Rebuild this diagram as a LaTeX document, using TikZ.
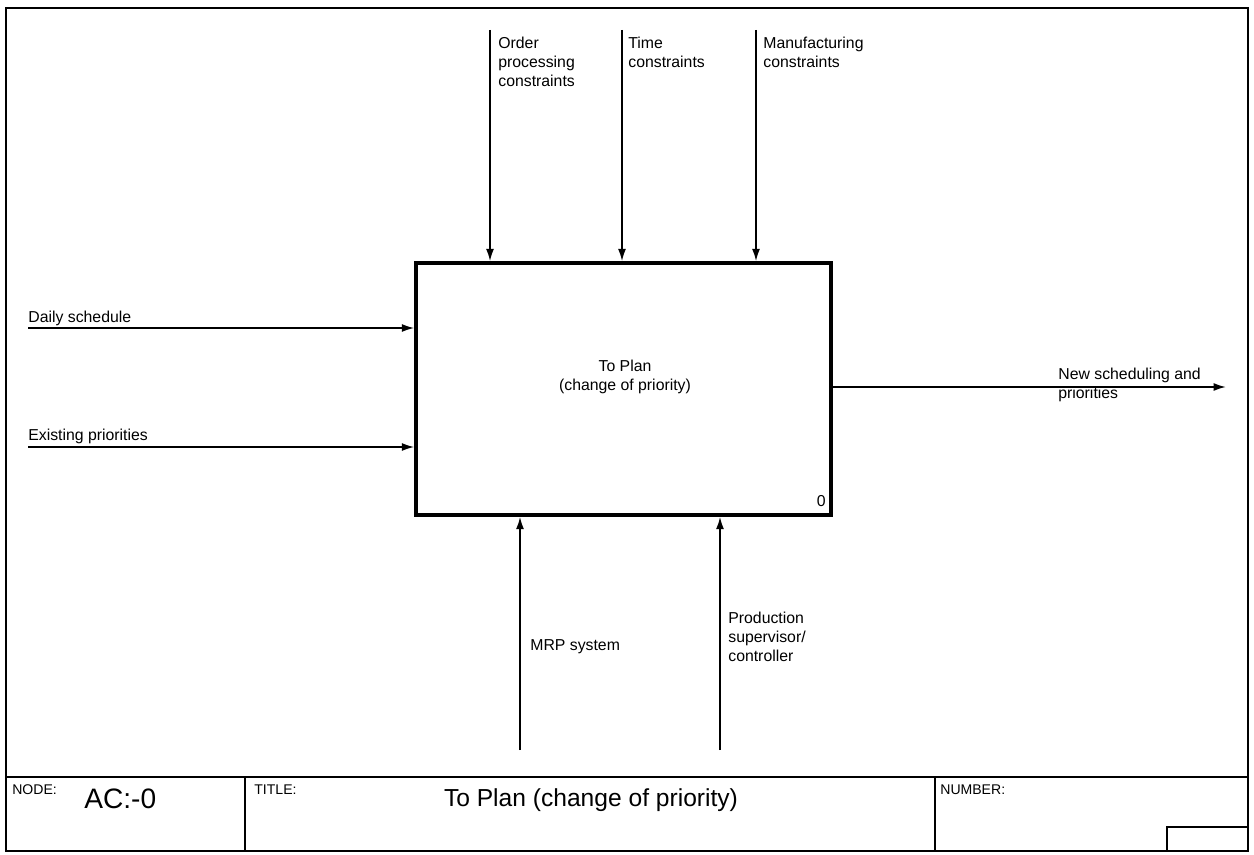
\documentclass[tikz,border=0pt]{standalone}
\usepackage{fontspec}
\setmainfont{Liberation Sans}
\usetikzlibrary{arrows.meta}

\begin{document}
\begin{tikzpicture}[x=0.02cm,y=-0.02cm]
\tikzset{edge/.style = {-{Latex[length=7pt,width=4.5pt]}, line width=1pt}}
\tikzset{activity/.style = {shape=rectangle, draw, line width=2pt, minimum width=8.3cm, minimum height=5.04cm}}
\tikzset{lbl/.style = {font=\fontsize{9}{10.8}\selectfont, align=left, inner sep=0pt}}
\tikzset{tag/.style = {font=\fontsize{8}{9}\selectfont, inner sep=0pt, anchor=north west}}
\useasboundingbox (0,0) rectangle (1254,855);
\draw[line width=1.2pt] (6,8) rectangle (1248,851);
% the activity box
\node[activity](act) at (623.5,389) {};
\node[lbl, align=center](actname) at (625,377) {To Plan\\(change of priority)};
\node[lbl, anchor=base east](actnum) at (826,506) {0};
% controls
\coordinate (c1) at (490,30);
\coordinate (c2) at (622,30);
\coordinate (c3) at (756,30);
\draw[edge] (c1) -- (c1 |- act.north);
\draw[edge] (c2) -- (c2 |- act.north);
\draw[edge] (c3) -- (c3 |- act.north);
\node[lbl, anchor=north west](ordc) at (498,37) {Order\\processing\\constraints};
\node[lbl, anchor=north west](timec) at (628,37) {Time\\constraints};
\node[lbl, anchor=north west](manc) at (763,37) {Manufacturing\\constraints};
% inputs
\coordinate (i1) at (28,328);
\coordinate (i2) at (28,447);
\draw[edge] (i1) -- (i1 -| act.west);
\draw[edge] (i2) -- (i2 -| act.west);
\node[lbl, anchor=base west](daily) at (28,322) {Daily schedule};
\node[lbl, anchor=base west](exist) at (28,440) {Existing priorities};
% output
\coordinate (o1) at (1226,387);
\draw[edge] (act.east |- o1) -- (o1);
\node[lbl, anchor=north west](newsch) at (1058,368) {New scheduling and\\priorities};
% mechanisms
\coordinate (m1) at (520,750);
\coordinate (m2) at (720,750);
\draw[edge] (m1) -- (m1 |- act.south);
\draw[edge] (m2) -- (m2 |- act.south);
\node[lbl, anchor=base west](mrp) at (530,650) {MRP system};
\node[lbl, anchor=north west](prod) at (728,612) {Production\\supervisor/\\controller};
% title block
\draw[line width=1.2pt] (6,777) -- (1248,777);
\draw[line width=0.9pt] (245,777) -- (245,851);
\draw[line width=0.9pt] (935,777) -- (935,851);
\draw[line width=0.9pt] (1167,851) |- (1248,827);
\node[tag](nodetag) at (12,784) {NODE:};
\node[font=\fontsize{16}{18}\selectfont, anchor=base west, inner sep=0pt](nodeid) at (84,808) {AC:-0};
\node[tag](titletag) at (254,784) {TITLE:};
\node[font=\fontsize{14}{16}\selectfont, anchor=base, inner sep=0pt](title) at (591,806) {To Plan (change of priority)};
\node[tag](numtag) at (940,784) {NUMBER:};
\end{tikzpicture}
\end{document}
